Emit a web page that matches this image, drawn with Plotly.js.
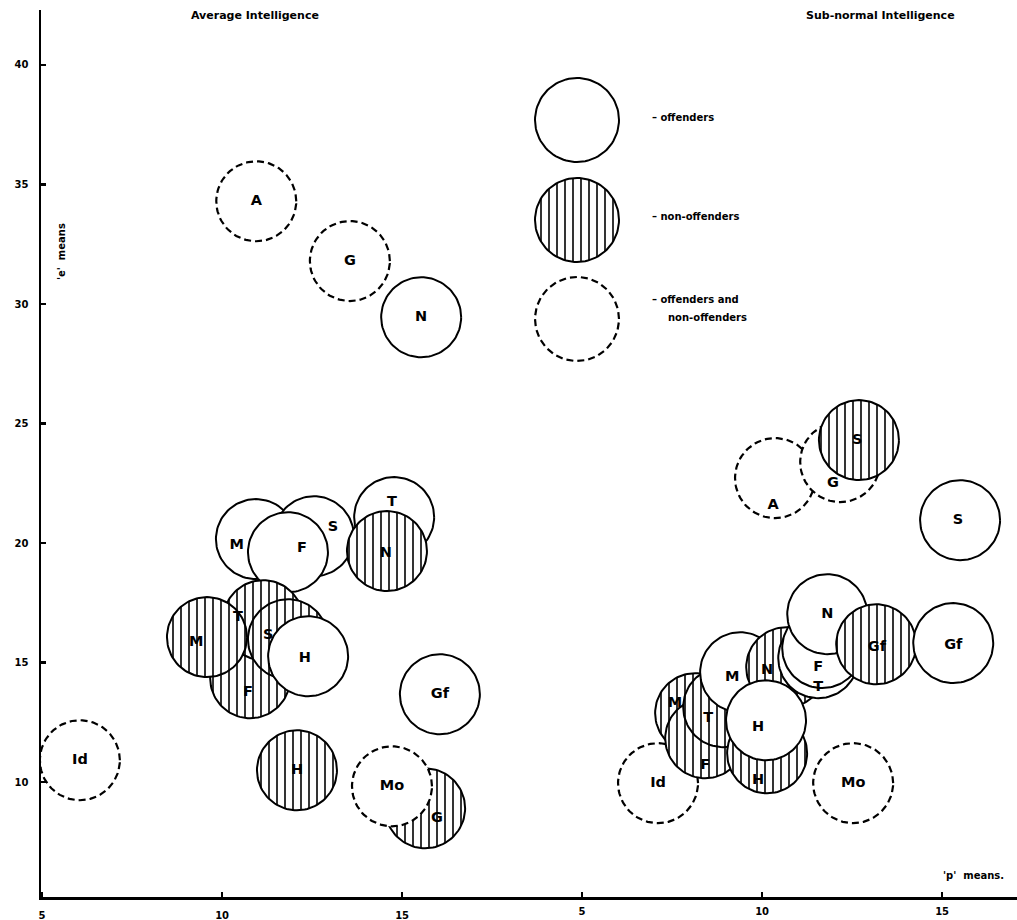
<!DOCTYPE html>
<html><head><meta charset="utf-8">
<script src="https://cdn.plot.ly/plotly-3.0.1.min.js"></script>
<style>body{margin:0;background:#fff}</style>
</head><body><div id="chart" style="width:1017px;height:920px"></div>
<script>
// ---- Average Intelligence panel (drawing order, back to front) ----
const avgLabels = ['Id','A','G','N','M','S','F','T','N','F','T','M','S','H','Gf','H','G','Mo'];
const avgKind   = ['both','both','both','off','off','off','off','off','non','non','non','non','non','off','off','non','non','both'];
const avgP      = [6.05,10.95,13.55,15.53,10.94,12.55,11.83,14.78,14.58,10.78,11.14,9.58,11.83,12.39,16.05,12.08,15.64,14.72];
const avgE      = [10.92,34.3,31.8,29.45,20.17,20.29,19.62,21.09,19.67,14.35,16.78,16.07,15.98,15.27,13.68,10.5,8.91,9.83];
const avgLabP   = [6.05,10.95,13.55,15.53,10.41,13.08,12.22,14.72,14.55,10.72,10.44,9.28,11.28,12.3,16.05,12.08,15.97,14.72];
const avgLabE   = [10.92,34.3,31.8,29.45,19.92,20.67,19.79,21.72,19.58,13.77,16.9,15.86,16.15,15.19,13.68,10.5,8.49,9.83];

// ---- Sub-normal Intelligence panel ----
const subLabels = ['Id','A','G','S','S','M','F','T','H','M','N','H','T','F','N','Gf','Gf','Mo'];
const subKind   = ['both','both','both','non','off','non','non','non','non','off','non','off','off','off','off','non','off','both'];
const subP      = [7.11,10.36,12.17,12.69,15.5,8.14,8.42,8.92,10.14,9.39,10.67,10.11,11.56,11.67,11.81,13.17,15.31,12.53];
const subE      = [9.96,22.72,23.39,24.31,20.96,12.89,11.84,13.14,11.21,14.6,14.81,12.59,15.19,15.61,17.03,15.77,15.82,9.96];
const subLabP   = [7.11,10.31,11.97,12.64,15.44,7.58,8.42,8.5,9.89,9.17,10.14,9.89,11.56,11.56,11.81,13.19,15.31,12.53];
const subLabE   = [9.96,21.59,22.51,24.31,20.96,13.31,10.71,12.68,10.08,14.39,14.69,12.3,13.97,14.81,17.03,15.65,15.73,9.96];

const yTicks = [10,15,20,25,30,35,40];
const xTicks = [5,10,15];
const legendItems = ['– offenders','– non-offenders','– offenders and','non-offenders'];

// ---- layout geometry ----
const W = 1017, H = 920;
const M = {l:41, r:0, t:10, b:23};
const plotW = W - M.l - M.r, plotH = H - M.t - M.b;
const xr1 = [4.97, 4.97 + plotW/36];
const xr2 = [xr1[0]-15, xr1[1]-15];
const yr = [5.2, 42.3];
const kx = plotW/(xr1[1]-xr1[0]), ky = plotH/(yr[1]-yr[0]);
const R = 40;
const FONT = 'DejaVu Sans, Verdana, sans-serif';

function circle(cx, cy, r) {
  const xs = [], ys = [];
  for (let i = 0; i <= 96; i++) {
    const a = 2*Math.PI*i/96;
    xs.push(cx + r*Math.cos(a)/kx);
    ys.push(cy + r*Math.sin(a)/ky);
  }
  return {xs, ys};
}

function circleTrace(cx, cy, r, kind, xa) {
  const c = circle(cx, cy, r);
  const t = {type:'scatter', mode:'lines', x:c.xs, y:c.ys, xaxis:xa, yaxis:'y',
    fill:'toself', fillcolor:'white', hoverinfo:'skip', showlegend:false,
    line:{color:'black', width:2}};
  if (kind === 'non') {
    t.fillpattern = {shape:'|', fgcolor:'black', bgcolor:'white', size:8, solidity:0.2};
  } else if (kind === 'both') {
    t.line = {color:'black', width:2.2, dash:'7px,4px'};
  }
  return t;
}

const traces = [];
avgP.forEach((p,i) => traces.push(circleTrace(p, avgE[i], R, avgKind[i], 'x')));
subP.forEach((p,i) => traces.push(circleTrace(p, subE[i], R, subKind[i], 'x2')));

// legend circles (layout positions in pixels -> left axis units)
const legKinds = ['off','non','both'];
const legPy = [120, 220, 319];
const legPx = 577;
legKinds.forEach((k,i) => {
  const cx = xr1[0] + (legPx - M.l)/kx;
  const cy = yr[0] + (H - M.b - legPy[i])/ky;
  traces.push(circleTrace(cx, cy, 42, k, 'x'));
});

const labelFont = {family:FONT, size:14.5, color:'black', weight:'bold'};
traces.push({type:'scatter', mode:'text', x:avgLabP, y:avgLabE, text:avgLabels, xaxis:'x', yaxis:'y',
  textfont:labelFont, hoverinfo:'skip', showlegend:false, cliponaxis:false});
traces.push({type:'scatter', mode:'text', x:subLabP, y:subLabE, text:subLabels, xaxis:'x2', yaxis:'y',
  textfont:labelFont, hoverinfo:'skip', showlegend:false, cliponaxis:false});

function px2paperX(px){ return (px - M.l)/plotW; }
function px2paperY(py){ return (H - M.b - py)/plotH; }
const small = {family:FONT, size:11, color:'black', weight:'bold'};
const tiny = {family:FONT, size:10, color:'black', weight:'bold'};

const annotations = [
  {text:'Average Intelligence', x:px2paperX(255), y:px2paperY(15)},
  {text:'Sub-normal Intelligence', x:px2paperX(880), y:px2paperY(15)},
  {text:legendItems[0], x:px2paperX(650), y:px2paperY(117), xanchor:'left', font:tiny},
  {text:legendItems[1], x:px2paperX(650), y:px2paperY(217), xanchor:'left', font:tiny},
  {text:legendItems[2], x:px2paperX(650), y:px2paperY(300), xanchor:'left', font:tiny},
  {text:legendItems[3], x:px2paperX(666), y:px2paperY(317), xanchor:'left', font:tiny},
  {text:"'p'  means.", x:px2paperX(973), y:px2paperY(875), font:tiny},
  {text:"'e'  means", x:px2paperX(61), y:px2paperY(252), textangle:-90, font:tiny}
].map(a => Object.assign({xref:'paper', yref:'paper', showarrow:false, font:small, xanchor:'center', yanchor:'middle'}, a));

const axisCommon = {showgrid:false, zeroline:false, ticks:'inside', ticklen:5, tickwidth:2.5, tickcolor:'black',
  tickfont:{family:FONT, size:10, color:'black', weight:'bold'}, fixedrange:true};

const layout = {
  width:W, height:H, margin:M, paper_bgcolor:'white', plot_bgcolor:'white', showlegend:false,
  xaxis: Object.assign({}, axisCommon, {range:xr1, tickvals:xTicks, ticktext:xTicks.map(String),
    showline:true, linewidth:2.5, linecolor:'black', anchor:'y', ticklabelstandoff:7}),
  xaxis2: Object.assign({}, axisCommon, {range:xr2, tickvals:xTicks, ticktext:xTicks.map(String),
    overlaying:'x', anchor:'y', side:'bottom', showline:false, ticklabelstandoff:7}),
  yaxis: Object.assign({}, axisCommon, {range:yr, tickvals:yTicks, ticktext:yTicks.map(String),
    showline:true, linewidth:2.5, linecolor:'black', ticklabelstandoff:8}),
  annotations
};

Plotly.newPlot('chart', traces, layout, {staticPlot:true});
</script></body></html>
